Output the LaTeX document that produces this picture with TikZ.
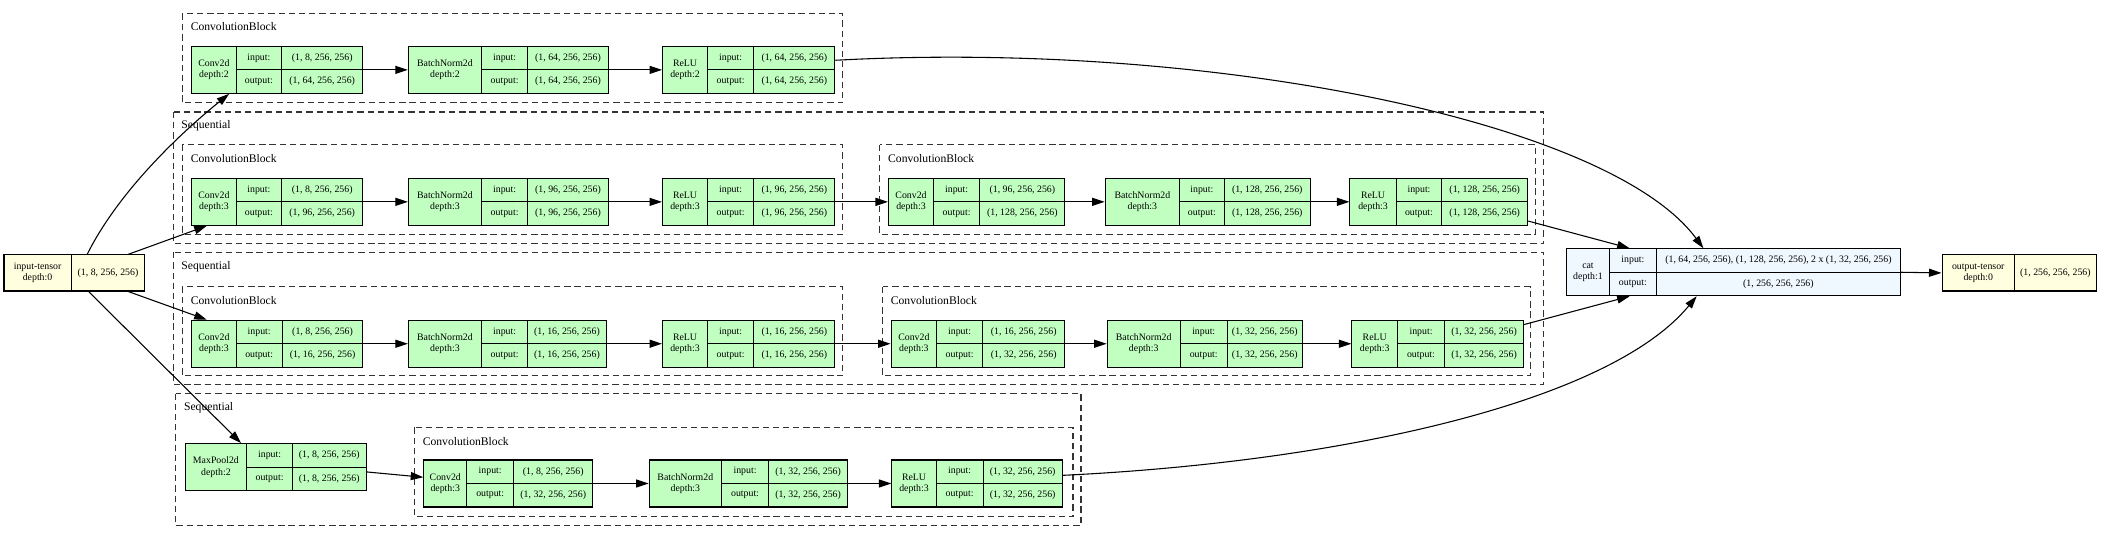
\documentclass[tikz,border=0pt]{standalone}
\usepackage{fontspec}
\setmainfont{Liberation Serif}
\usepackage{xcolor}
\usetikzlibrary{arrows.meta}
\usetikzlibrary{fit}
\usetikzlibrary{calc}
\definecolor{modgreen}{HTML}{C1FFC1}
\definecolor{tensyellow}{HTML}{FFFFE0}
\definecolor{funcblue}{HTML}{F0F8FF}

% module record: name, left, top, div1, div2, right, title, input, output
\newcommand{\modnode}[9]{%
  \coordinate (#1-nw) at (#2,#3);
  \coordinate (#1-se) at (#6,#3+35);
  \node[modbox, fit=(#1-nw)(#1-se)] (#1) {};
  \draw[cell] (#4,#3) -- (#4,#3+35) (#5,#3) -- (#5,#3+35) (#4,#3+17.5) -- (#6,#3+17.5);
  \node[txt] (#1-name) at ({(#2+#4)/2},#3+17.5) {#7};
  \node[txt] (#1-inl) at ({(#4+#5)/2},#3+8.75) {input:};
  \node[txt] (#1-outl) at ({(#4+#5)/2},#3+26.25) {output:};
  \node[txt] (#1-inv) at ({(#5+#6)/2},#3+8.75) {#8};
  \node[txt] (#1-outv) at ({(#5+#6)/2},#3+26.25) {#9};
}
% tensor record: name, left, top, div, right, title, value
\newcommand{\tensnode}[7]{%
  \coordinate (#1-nw) at (#2,#3);
  \coordinate (#1-se) at (#5,#3+27);
  \node[tensbox, fit=(#1-nw)(#1-se)] (#1) {};
  \draw[cell] (#4,#3) -- (#4,#3+27);
  \node[txt] (#1-name) at ({(#2+#4)/2},#3+13.5) {#6};
  \node[txt] (#1-val) at ({(#4+#5)/2},#3+13.5) {#7};
}

\begin{document}
\begin{tikzpicture}[x=0.75pt,y=-0.75pt,
  txt/.style={font=\fontsize{5.5}{6.3}\selectfont, align=center, inner sep=0pt},
  clab/.style={font=\fontsize{6.5}{7}\selectfont, anchor=west, inner sep=0pt},
  modbox/.style={draw, line width=0.6pt, fill=modgreen, inner sep=0pt},
  tensbox/.style={draw, line width=0.6pt, fill=tensyellow, inner sep=0pt},
  cell/.style={line width=0.6pt},
  cluster/.style={draw=black!80, line width=0.6pt, dash pattern=on 3.5pt off 2.2pt},
  edge/.style={line width=0.6pt, -{Triangle[length=7pt,width=4.5pt]}}]
\useasboundingbox (0,0) rectangle (1568,402);

% clusters
\draw[cluster] (136,10.4) rectangle (628.5,76.7);
\node[clab] (labA) at (142,20) {ConvolutionBlock};
\draw[cluster] (129.5,83.5) rectangle (1151,181.6);
\node[clab] (labS1) at (135,93.5) {Sequential};
\draw[cluster] (136,108) rectangle (628.5,174.7);
\node[clab] (labB1) at (142,118.5) {ConvolutionBlock};
\draw[cluster] (656,108) rectangle (1145,174.7);
\node[clab] (labB2) at (662,118.5) {ConvolutionBlock};
\draw[cluster] (129.5,188) rectangle (1151,286.5);
\node[clab] (labS2) at (135,198.5) {Sequential};
\draw[cluster] (136,213.9) rectangle (628.5,280.3);
\node[clab] (labC1) at (142,223.8) {ConvolutionBlock};
\draw[cluster] (658,213.9) rectangle (1141,280.3);
\node[clab] (labC2) at (664,223.8) {ConvolutionBlock};
\draw[cluster] (131,293.5) rectangle (806,391.8);
\node[clab] (labS3) at (137,304) {Sequential};
\draw[cluster] (309,318.7) rectangle (800,385.4);
\node[clab] (labD) at (315,329) {ConvolutionBlock};

% nodes
\tensnode{inT}{3}{190}{53}{108}{input-tensor\\depth:0}{(1, 8, 256, 256)}
\modnode{convA}{143}{34.6}{176}{210}{270.5}{Conv2d\\depth:2}{(1, 8, 256, 256)}{(1, 64, 256, 256)}
\modnode{bnA}{304.5}{34.6}{359}{393.5}{453.5}{BatchNorm2d\\depth:2}{(1, 64, 256, 256)}{(1, 64, 256, 256)}
\modnode{reluA}{494}{34.6}{527.5}{562}{622.5}{ReLU\\depth:2}{(1, 64, 256, 256)}{(1, 64, 256, 256)}

\modnode{convB}{143}{133}{176}{210}{270.5}{Conv2d\\depth:3}{(1, 8, 256, 256)}{(1, 96, 256, 256)}
\modnode{bnB}{304.5}{133}{359}{393.5}{453.5}{BatchNorm2d\\depth:3}{(1, 96, 256, 256)}{(1, 96, 256, 256)}
\modnode{reluB}{494}{133}{527.5}{562}{622.5}{ReLU\\depth:3}{(1, 96, 256, 256)}{(1, 96, 256, 256)}
\modnode{convBb}{662.5}{133}{696}{730.5}{794}{Conv2d\\depth:3}{(1, 96, 256, 256)}{(1, 128, 256, 256)}
\modnode{bnBb}{824}{133}{879.5}{912.7}{977}{BatchNorm2d\\depth:3}{(1, 128, 256, 256)}{(1, 128, 256, 256)}
\modnode{reluBb}{1006.5}{133}{1041}{1075}{1139}{ReLU\\depth:3}{(1, 128, 256, 256)}{(1, 128, 256, 256)}

\modnode{convC}{143}{238.8}{176}{210.5}{270.5}{Conv2d\\depth:3}{(1, 8, 256, 256)}{(1, 16, 256, 256)}
\modnode{bnC}{304.5}{238.8}{359}{393.5}{452}{BatchNorm2d\\depth:3}{(1, 16, 256, 256)}{(1, 16, 256, 256)}
\modnode{reluC}{494}{238.8}{527.5}{562}{622.5}{ReLU\\depth:3}{(1, 16, 256, 256)}{(1, 16, 256, 256)}
\modnode{convCb}{664.4}{238.8}{698.4}{732.6}{794}{Conv2d\\depth:3}{(1, 16, 256, 256)}{(1, 32, 256, 256)}
\modnode{bnCb}{825.5}{238.8}{880}{915}{971}{BatchNorm2d\\depth:3}{(1, 32, 256, 256)}{(1, 32, 256, 256)}
\modnode{reluCb}{1008}{238.8}{1042}{1077}{1136}{ReLU\\depth:3}{(1, 32, 256, 256)}{(1, 32, 256, 256)}

\modnode{maxpD}{138}{330.8}{184}{218}{273}{MaxPool2d\\depth:2}{(1, 8, 256, 256)}{(1, 8, 256, 256)}
\modnode{convD}{316}{343}{348}{383}{442}{Conv2d\\depth:3}{(1, 8, 256, 256)}{(1, 32, 256, 256)}
\modnode{bnD}{484}{343}{538}{573}{632}{BatchNorm2d\\depth:3}{(1, 32, 256, 256)}{(1, 32, 256, 256)}
\modnode{reluD}{665}{343}{698}{733}{792}{ReLU\\depth:3}{(1, 32, 256, 256)}{(1, 32, 256, 256)}

\begin{scope}[modbox/.append style={fill=funcblue}]
\modnode{cat}{1168}{185.5}{1200}{1235}{1417}{cat\\depth:1}{(1, 64, 256, 256), (1, 128, 256, 256), 2 x (1, 32, 256, 256)}{(1, 256, 256, 256)}
\end{scope}
\tensnode{outT}{1448}{190}{1502}{1563}{output-tensor\\depth:0}{(1, 256, 256, 256)}

% edges
\draw[edge] ($(inT.north west)!0.59!(inT.north east)$) .. controls +(25,-50) and +(-31,25) .. ($(convA.south west)!0.22!(convA.south east)$);
\draw[edge] ($(inT.north west)!0.88!(inT.north east)$) -- ($(convB.south west)!0.09!(convB.south east)$);
\draw[edge] ($(inT.south west)!0.88!(inT.south east)$) -- ($(convC.north west)!0.09!(convC.north east)$);
\draw[edge] ($(inT.south west)!0.6!(inT.south east)$) -- ($(maxpD.north west)!0.31!(maxpD.north east)$);

\draw[edge] (convA.east) -- (bnA.west);
\draw[edge] (bnA.east) -- (reluA.west);
\draw[edge] (convB.east) -- (bnB.west);
\draw[edge] (bnB.east) -- (reluB.west);
\draw[edge] (reluB.east) -- (convBb.west);
\draw[edge] (convBb.east) -- (bnBb.west);
\draw[edge] (bnBb.east) -- (reluBb.west);
\draw[edge] (convC.east) -- (bnC.west);
\draw[edge] (bnC.east) -- (reluC.west);
\draw[edge] (reluC.east) -- (convCb.west);
\draw[edge] (convCb.east) -- (bnCb.west);
\draw[edge] (bnCb.east) -- (reluCb.west);
\draw[edge] ($(maxpD.north east)!0.6!(maxpD.south east)$) -- ($(convD.north west)!0.37!(convD.south west)$);
\draw[edge] (convD.east) -- (bnD.west);
\draw[edge] (bnD.east) -- (reluD.west);

\draw[edge] ($(reluA.north east)!0.3!(reluA.south east)$) .. controls +(278,-15) and +(-70,-95) .. ($(cat.north west)!0.41!(cat.north east)$);
\draw[edge] ($(reluBb.north east)!0.9!(reluBb.south east)$) -- ($(cat.north west)!0.19!(cat.north east)$);
\draw[edge] ($(reluCb.north east)!0.1!(reluCb.south east)$) -- ($(cat.south west)!0.19!(cat.south east)$);
\draw[edge] ($(reluD.north east)!0.33!(reluD.south east)$) .. controls +(208,-10) and +(-65,79) .. ($(cat.south west)!0.39!(cat.south east)$);
\draw[edge] (cat.east) -- (outT.west);
\end{tikzpicture}
\end{document}
